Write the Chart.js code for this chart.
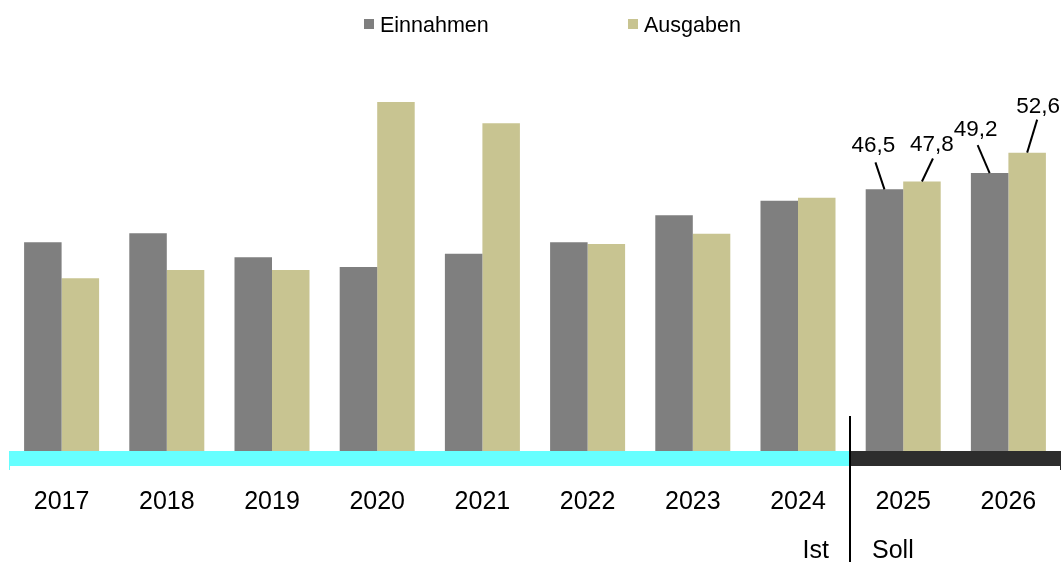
<!DOCTYPE html>
<html>
<head>
<meta charset="utf-8">
<script src="https://cdn.jsdelivr.net/npm/chart.js@4.4.1/dist/chart.umd.min.js"></script>
<style>
  html, body { margin: 0; padding: 0; background: #fff; }
  #wrap { width: 1064px; height: 562px; position: relative; }
</style>
</head>
<body>
<div id="wrap"><canvas id="haushalt"></canvas></div>
<script>
// Werte in Mrd. Euro
const years = ["2017", "2018", "2019", "2020", "2021", "2022", "2023", "2024", "2025", "2026"];
const einnahmen = [37.7, 39.2, 35.2, 33.6, 35.8, 37.7, 42.2, 44.6, 46.5, 49.2];
const ausgaben = [31.7, 33.1, 33.1, 61.0, 57.5, 37.4, 39.1, 45.1, 47.8, 52.6];
const istCount = 8; // 2017-2024 Ist, danach Soll
const periodLabels = ["Ist", "Soll"];

const GRAY = "#7f7f7f";
const TAN = "#c8c491";
const FONT = "'Liberation Sans', Arial, sans-serif";

// Beschriftungen nur für die Soll-Jahre: [datasetIndex, index, textDx, textDy, lineDx, lineDy]
const callouts = [
    [0, 8, -11, -37, -9, -27],
    [1, 8, 10, -31, 11, -23],
    [0, 9, -14, -37, -12, -28],
    [1, 9, 11, -40, 10, -33]
];

function fmt(v) {
    return v.toFixed(1).replace(".", ",");
}

const extras = {
    id: "extras",
    afterDatasetsDraw(chart) {
        const ctx = chart.ctx;
        const x = chart.scales.x;
        const area = chart.chartArea;
        const split = Math.round((x.getPixelForValue(istCount - 1) + x.getPixelForValue(istCount)) / 2) - 1;

        // Band unter der Achse
        ctx.save();
        ctx.fillStyle = "#66ffff";
        ctx.fillRect(area.left, area.bottom, split - area.left, 15);
        ctx.fillRect(area.left, area.bottom, 1, 19);
        ctx.fillStyle = "#2d2d2d";
        ctx.fillRect(split, area.bottom, area.right - split, 15);
        ctx.fillRect(area.right - 1, area.bottom, 1, 19);

        // Trennlinie Ist / Soll
        ctx.strokeStyle = "#000";
        ctx.lineWidth = 2;
        ctx.beginPath();
        ctx.moveTo(split, area.bottom - 35);
        ctx.lineTo(split, chart.height);
        ctx.stroke();

        ctx.fillStyle = "#000";
        ctx.font = "25px " + FONT;
        ctx.textBaseline = "alphabetic";
        ctx.textAlign = "right";
        ctx.fillText(periodLabels[0], split - 21, 558);
        ctx.textAlign = "left";
        ctx.fillText(periodLabels[1], split + 22, 558);

        // Wertebeschriftungen mit Linien
        ctx.font = "22.5px " + FONT;
        ctx.textAlign = "center";
        ctx.lineWidth = 2;
        callouts.forEach(([ds, i, tdx, tdy, ldx, ldy]) => {
            const bar = chart.getDatasetMeta(ds).data[i];
            const v = chart.data.datasets[ds].data[i];
            ctx.beginPath();
            ctx.moveTo(bar.x, bar.y);
            ctx.lineTo(bar.x + ldx, bar.y + ldy);
            ctx.stroke();
            ctx.fillText(fmt(v), bar.x + tdx, bar.y + tdy);
        });

        // Legende
        ctx.font = "21.5px " + FONT;
        ctx.textAlign = "left";
        const items = [[364, GRAY, "Einnahmen"], [628, TAN, "Ausgaben"]];
        items.forEach(([lx, col, txt]) => {
            ctx.fillStyle = col;
            ctx.fillRect(lx, 19, 10, 10);
            ctx.fillStyle = "#000";
            ctx.fillText(txt, lx + 16, 32);
        });
        ctx.restore();
    }
};

new Chart(document.getElementById("haushalt"), {
    type: "bar",
    data: {
        labels: years,
        datasets: [
            { label: "Einnahmen", data: einnahmen, backgroundColor: GRAY },
            { label: "Ausgaben", data: ausgaben, backgroundColor: TAN }
        ]
    },
    options: {
        responsive: true,
        maintainAspectRatio: false,
        animation: false,
        devicePixelRatio: 1,
        layout: { padding: { left: 9, right: 3, top: 60, bottom: 0 } },
        plugins: {
            legend: { display: false },
            tooltip: { enabled: false }
        },
        datasets: {
            bar: { categoryPercentage: 0.713, barPercentage: 1 }
        },
        scales: {
            x: {
                grid: { display: false, drawTicks: false },
                border: { display: false },
                ticks: {
                    color: "#000",
                    padding: 36,
                    font: { family: FONT, size: 25 }
                },
                afterFit(scale) {
                    scale.height = 111;
                    scale.paddingLeft = 0;
                    scale.paddingRight = 0;
                }
            },
            y: {
                display: false,
                min: 3,
                max: 68
            }
        }
    },
    plugins: [extras]
});
</script>
</body>
</html>
